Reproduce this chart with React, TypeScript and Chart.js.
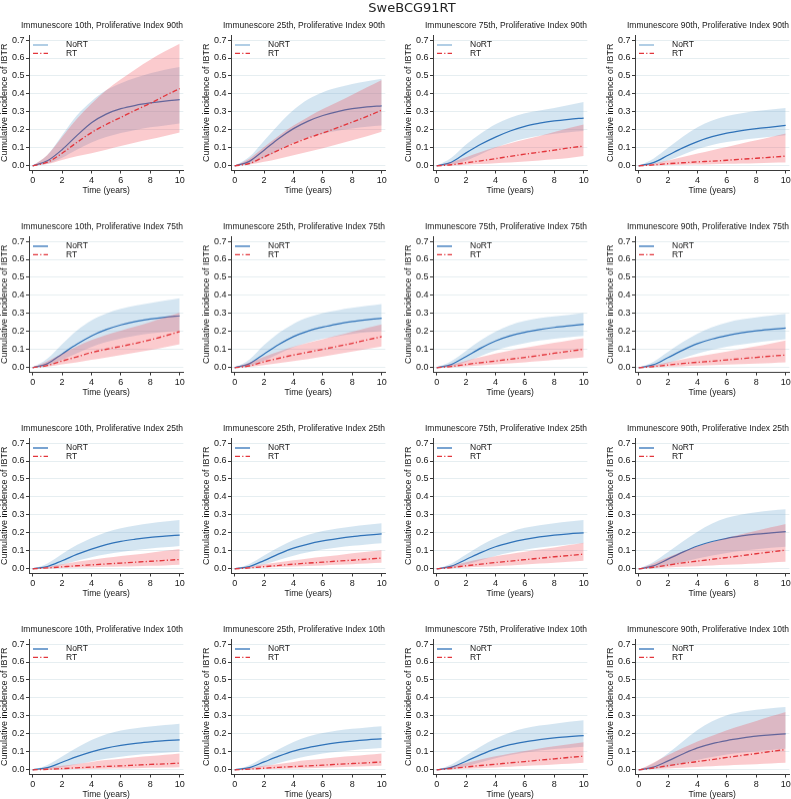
import React, { useEffect, useRef } from 'react';
import { Chart, registerables } from 'chart.js';

Chart.register(...registerables);

// ---------------- data ----------------
const figureTitle = 'SweBCG91RT';
const years = [0, 1, 2, 3, 4, 5, 6, 7, 8, 9, 10];
const xTickValues = [0, 2, 4, 6, 8, 10];
const yTickValues = [0, 0.1, 0.2, 0.3, 0.4, 0.5, 0.6, 0.7];
const immunescoreLevels = ['10th', '25th', '75th', '90th']; // columns
const proliferativeLevels = ['90th', '75th', '25th', '10th']; // rows
const groupLabels = ['NoRT', 'RT'];
const xAxisTitle = 'Time (years)';
const yAxisTitle = 'Cumulative incidence of IBTR';

// panels in row-major order (rows = proliferative index, columns = immunescore)
const noRTMean = [
  [0, 0.028, 0.09, 0.168, 0.24, 0.288, 0.318, 0.337, 0.35, 0.36, 0.368],
  [0, 0.025, 0.087, 0.152, 0.207, 0.249, 0.28, 0.302, 0.318, 0.328, 0.334],
  [0, 0.02, 0.072, 0.12, 0.16, 0.194, 0.22, 0.237, 0.25, 0.259, 0.266],
  [0, 0.018, 0.059, 0.1, 0.135, 0.162, 0.182, 0.196, 0.207, 0.216, 0.225],
  [0, 0.022, 0.076, 0.13, 0.176, 0.211, 0.237, 0.256, 0.27, 0.28, 0.287],
  [0, 0.022, 0.076, 0.128, 0.172, 0.203, 0.225, 0.242, 0.256, 0.266, 0.274],
  [0, 0.018, 0.062, 0.108, 0.148, 0.176, 0.196, 0.211, 0.223, 0.232, 0.24],
  [0, 0.016, 0.056, 0.097, 0.133, 0.159, 0.178, 0.193, 0.204, 0.212, 0.219],
  [0, 0.013, 0.045, 0.08, 0.11, 0.135, 0.153, 0.165, 0.175, 0.182, 0.188],
  [0, 0.013, 0.046, 0.083, 0.115, 0.138, 0.155, 0.168, 0.179, 0.187, 0.194],
  [0, 0.015, 0.052, 0.09, 0.123, 0.146, 0.164, 0.178, 0.188, 0.195, 0.2],
  [0, 0.016, 0.054, 0.093, 0.127, 0.152, 0.17, 0.183, 0.193, 0.2, 0.207],
  [0, 0.012, 0.042, 0.073, 0.1, 0.121, 0.136, 0.147, 0.155, 0.162, 0.167],
  [0, 0.012, 0.044, 0.076, 0.104, 0.124, 0.139, 0.151, 0.16, 0.167, 0.172],
  [0, 0.014, 0.048, 0.085, 0.117, 0.14, 0.156, 0.168, 0.178, 0.185, 0.191],
  [0, 0.015, 0.05, 0.088, 0.122, 0.146, 0.163, 0.176, 0.187, 0.194, 0.2],
];
const noRTLower = [
  [0, 0.012, 0.045, 0.09, 0.13, 0.16, 0.183, 0.2, 0.214, 0.225, 0.235],
  [0, 0.01, 0.043, 0.087, 0.128, 0.158, 0.179, 0.195, 0.208, 0.218, 0.225],
  [0, 0.008, 0.03, 0.065, 0.1, 0.13, 0.152, 0.167, 0.178, 0.187, 0.194],
  [0, 0.007, 0.03, 0.062, 0.093, 0.116, 0.132, 0.144, 0.154, 0.162, 0.17],
  [0, 0.01, 0.043, 0.08, 0.115, 0.142, 0.162, 0.177, 0.189, 0.198, 0.205],
  [0, 0.01, 0.04, 0.077, 0.113, 0.14, 0.16, 0.175, 0.187, 0.196, 0.204],
  [0, 0.008, 0.033, 0.065, 0.095, 0.118, 0.136, 0.15, 0.161, 0.169, 0.176],
  [0, 0.006, 0.025, 0.052, 0.078, 0.099, 0.116, 0.129, 0.14, 0.149, 0.157],
  [0, 0.006, 0.023, 0.045, 0.065, 0.081, 0.094, 0.105, 0.113, 0.12, 0.127],
  [0, 0.006, 0.024, 0.049, 0.073, 0.092, 0.107, 0.119, 0.128, 0.136, 0.142],
  [0, 0.006, 0.024, 0.048, 0.072, 0.091, 0.106, 0.118, 0.127, 0.135, 0.142],
  [0, 0.005, 0.019, 0.038, 0.057, 0.074, 0.088, 0.1, 0.109, 0.117, 0.123],
  [0, 0.004, 0.015, 0.031, 0.047, 0.061, 0.073, 0.082, 0.089, 0.095, 0.1],
  [0, 0.005, 0.018, 0.038, 0.059, 0.077, 0.091, 0.101, 0.109, 0.116, 0.122],
  [0, 0.005, 0.02, 0.042, 0.065, 0.083, 0.097, 0.108, 0.116, 0.122, 0.128],
  [0, 0.005, 0.017, 0.035, 0.055, 0.071, 0.085, 0.095, 0.104, 0.111, 0.117],
];
const noRTUpper = [
  [0, 0.06, 0.17, 0.28, 0.36, 0.42, 0.46, 0.49, 0.515, 0.535, 0.55],
  [0, 0.05, 0.14, 0.23, 0.31, 0.37, 0.41, 0.436, 0.456, 0.471, 0.484],
  [0, 0.045, 0.118, 0.18, 0.232, 0.268, 0.292, 0.308, 0.322, 0.338, 0.355],
  [0, 0.04, 0.1, 0.162, 0.215, 0.252, 0.277, 0.293, 0.305, 0.314, 0.322],
  [0, 0.05, 0.13, 0.205, 0.262, 0.3, 0.326, 0.344, 0.358, 0.372, 0.385],
  [0, 0.045, 0.125, 0.192, 0.243, 0.278, 0.302, 0.318, 0.331, 0.342, 0.352],
  [0, 0.036, 0.094, 0.152, 0.2, 0.236, 0.259, 0.274, 0.284, 0.293, 0.302],
  [0, 0.033, 0.088, 0.142, 0.188, 0.224, 0.25, 0.267, 0.279, 0.289, 0.298],
  [0, 0.03, 0.082, 0.132, 0.172, 0.204, 0.226, 0.241, 0.253, 0.263, 0.272],
  [0, 0.027, 0.074, 0.12, 0.16, 0.19, 0.211, 0.225, 0.236, 0.245, 0.253],
  [0, 0.03, 0.08, 0.13, 0.172, 0.205, 0.228, 0.243, 0.254, 0.264, 0.272],
  [0, 0.038, 0.094, 0.152, 0.207, 0.252, 0.284, 0.303, 0.315, 0.324, 0.331],
  [0, 0.027, 0.074, 0.123, 0.166, 0.198, 0.219, 0.232, 0.241, 0.249, 0.257],
  [0, 0.025, 0.07, 0.114, 0.155, 0.185, 0.205, 0.219, 0.228, 0.236, 0.243],
  [0, 0.03, 0.08, 0.13, 0.175, 0.208, 0.231, 0.246, 0.257, 0.267, 0.276],
  [0, 0.035, 0.092, 0.158, 0.222, 0.27, 0.304, 0.323, 0.335, 0.343, 0.35],
];
const rtMean = [
  [0, 0.02, 0.07, 0.13, 0.185, 0.23, 0.27, 0.31, 0.348, 0.39, 0.43],
  [0, 0.013, 0.05, 0.087, 0.124, 0.155, 0.183, 0.212, 0.244, 0.275, 0.31],
  [0, 0.006, 0.017, 0.028, 0.04, 0.053, 0.065, 0.076, 0.087, 0.1, 0.11],
  [0, 0.005, 0.012, 0.017, 0.022, 0.026, 0.031, 0.037, 0.042, 0.048, 0.054],
  [0, 0.012, 0.037, 0.06, 0.084, 0.102, 0.118, 0.135, 0.154, 0.176, 0.2],
  [0, 0.01, 0.033, 0.052, 0.07, 0.086, 0.102, 0.118, 0.135, 0.154, 0.172],
  [0, 0.007, 0.018, 0.028, 0.037, 0.047, 0.057, 0.068, 0.08, 0.091, 0.102],
  [0, 0.006, 0.015, 0.023, 0.03, 0.036, 0.043, 0.05, 0.057, 0.064, 0.07],
  [0, 0.005, 0.011, 0.017, 0.022, 0.027, 0.032, 0.037, 0.042, 0.047, 0.052],
  [0, 0.005, 0.012, 0.019, 0.026, 0.032, 0.037, 0.043, 0.048, 0.054, 0.06],
  [0, 0.007, 0.017, 0.026, 0.035, 0.043, 0.051, 0.059, 0.067, 0.074, 0.082],
  [0, 0.009, 0.021, 0.033, 0.043, 0.053, 0.063, 0.073, 0.084, 0.094, 0.104],
  [0, 0.003, 0.007, 0.011, 0.015, 0.019, 0.022, 0.026, 0.03, 0.033, 0.037],
  [0, 0.004, 0.009, 0.014, 0.018, 0.022, 0.026, 0.031, 0.035, 0.039, 0.044],
  [0, 0.007, 0.016, 0.024, 0.031, 0.039, 0.046, 0.054, 0.061, 0.069, 0.076],
  [0, 0.01, 0.023, 0.035, 0.046, 0.057, 0.069, 0.08, 0.091, 0.102, 0.113],
];
const rtLower = [
  [0, 0.01, 0.033, 0.053, 0.07, 0.09, 0.11, 0.13, 0.148, 0.166, 0.185],
  [0, 0.007, 0.022, 0.04, 0.059, 0.078, 0.098, 0.12, 0.142, 0.165, 0.19],
  [0, 0.002, 0.006, 0.01, 0.015, 0.019, 0.024, 0.03, 0.036, 0.044, 0.054],
  [0, 0.002, 0.004, 0.006, 0.007, 0.009, 0.011, 0.013, 0.015, 0.017, 0.018],
  [0, 0.006, 0.018, 0.03, 0.043, 0.056, 0.07, 0.084, 0.098, 0.113, 0.13],
  [0, 0.005, 0.015, 0.026, 0.037, 0.048, 0.061, 0.075, 0.089, 0.103, 0.117],
  [0, 0.003, 0.007, 0.013, 0.019, 0.024, 0.03, 0.036, 0.043, 0.05, 0.057],
  [0, 0.003, 0.006, 0.008, 0.011, 0.014, 0.017, 0.02, 0.023, 0.026, 0.03],
  [0, 0.002, 0.005, 0.007, 0.009, 0.011, 0.013, 0.015, 0.017, 0.019, 0.022],
  [0, 0.003, 0.007, 0.01, 0.013, 0.016, 0.019, 0.022, 0.026, 0.03, 0.034],
  [0, 0.003, 0.007, 0.011, 0.015, 0.019, 0.024, 0.029, 0.034, 0.039, 0.045],
  [0, 0.003, 0.007, 0.011, 0.015, 0.019, 0.022, 0.026, 0.03, 0.035, 0.039],
  [0, 0.001, 0.002, 0.004, 0.005, 0.006, 0.007, 0.009, 0.011, 0.013, 0.015],
  [0, 0.002, 0.004, 0.005, 0.007, 0.009, 0.011, 0.014, 0.017, 0.02, 0.022],
  [0, 0.003, 0.006, 0.009, 0.013, 0.017, 0.021, 0.025, 0.03, 0.034, 0.039],
  [0, 0.004, 0.008, 0.012, 0.016, 0.02, 0.024, 0.028, 0.031, 0.035, 0.039],
];
const rtUpper = [
  [0, 0.06, 0.16, 0.26, 0.345, 0.42, 0.482, 0.538, 0.59, 0.637, 0.68],
  [0, 0.04, 0.105, 0.168, 0.224, 0.272, 0.316, 0.355, 0.395, 0.437, 0.478],
  [0, 0.02, 0.048, 0.077, 0.104, 0.126, 0.146, 0.166, 0.188, 0.21, 0.23],
  [0, 0.013, 0.03, 0.049, 0.068, 0.087, 0.105, 0.124, 0.142, 0.161, 0.18],
  [0, 0.035, 0.077, 0.117, 0.153, 0.181, 0.205, 0.228, 0.252, 0.278, 0.305],
  [0, 0.028, 0.06, 0.089, 0.116, 0.138, 0.158, 0.178, 0.199, 0.22, 0.24],
  [0, 0.017, 0.038, 0.059, 0.078, 0.095, 0.11, 0.124, 0.138, 0.151, 0.163],
  [0, 0.014, 0.03, 0.046, 0.061, 0.075, 0.089, 0.103, 0.118, 0.134, 0.15],
  [0, 0.012, 0.025, 0.039, 0.051, 0.061, 0.071, 0.08, 0.09, 0.1, 0.11],
  [0, 0.012, 0.025, 0.037, 0.048, 0.058, 0.067, 0.076, 0.086, 0.095, 0.104],
  [0, 0.017, 0.036, 0.054, 0.07, 0.083, 0.095, 0.107, 0.119, 0.132, 0.145],
  [0, 0.03, 0.064, 0.096, 0.125, 0.149, 0.171, 0.192, 0.212, 0.231, 0.25],
  [0, 0.01, 0.022, 0.033, 0.044, 0.054, 0.062, 0.07, 0.077, 0.084, 0.091],
  [0, 0.01, 0.022, 0.033, 0.044, 0.054, 0.062, 0.07, 0.077, 0.084, 0.091],
  [0, 0.018, 0.038, 0.057, 0.075, 0.091, 0.105, 0.119, 0.131, 0.143, 0.154],
  [0, 0.04, 0.083, 0.122, 0.158, 0.19, 0.22, 0.246, 0.272, 0.298, 0.322],
];

// ---------------- style / layout ----------------
const FONT = '"Liberation Sans", Arial, Helvetica, sans-serif';
const TEXT = '#161616';
const AXIS = '#3a3a3a';
const GRID = '#e6eef1';
const BLUE = '#2f72b8';
const BLUE_KEY_LIGHT = '#a9c9e2';
const BLUE_BAND = 'rgba(100,160,205,0.28)';
const RED = '#e3363c';
const RED_BAND = 'rgba(240,70,80,0.28)';
const RT_DASH = [5, 2.2, 1.2, 2.2];

const CANVAS_W = 190;
const CANVAS_H = 196.2;
const PAD_TOP = 35;
const Y_AXIS_W = 29;
const X_AXIS_H = 25.5;
const COL_STEP = 202;
const ROW_STEP = 201.4;

function Panel({ index }: { index: number }) {
  const ref = useRef<HTMLCanvasElement | null>(null);
  const row = Math.floor(index / 4);
  const col = index % 4;

  useEffect(() => {
    const canvas = ref.current;
    if (!canvas) return;
    const pts = (arr: number[]) => years.map((t, i) => ({ x: t, y: arr[i] }));
    const title = `Immunescore ${immunescoreLevels[col]}, Proliferative Index ${proliferativeLevels[row]}`;

    const titlePlugin = {
      id: 'panelTitle',
      afterDraw(chart: any) {
        const { ctx, chartArea } = chart;
        ctx.save();
        ctx.font = `8.5px ${FONT}`;
        ctx.fillStyle = TEXT;
        ctx.textAlign = 'center';
        ctx.textBaseline = 'middle';
        ctx.fillText(title, chartArea.left + 73, chartArea.top - 9);
        ctx.restore();
      },
    };

    const legendPlugin = {
      id: 'insetLegend',
      afterDraw(chart: any) {
        const { ctx, chartArea } = chart;
        const items = [
          { label: groupLabels[0], color: row === 0 ? BLUE_KEY_LIGHT : BLUE, dash: [] as number[], width: row === 0 ? 1.8 : 1.3, dy: 10 },
          { label: groupLabels[1], color: RED, dash: RT_DASH, width: 1.3, dy: 18.3 },
        ];
        ctx.save();
        ctx.font = `8.5px ${FONT}`;
        ctx.textBaseline = 'middle';
        ctx.textAlign = 'left';
        for (const it of items) {
          const y = chartArea.top + it.dy;
          ctx.beginPath();
          ctx.setLineDash(it.dash);
          ctx.strokeStyle = it.color;
          ctx.lineWidth = it.width;
          ctx.moveTo(chartArea.left + 4, y);
          ctx.lineTo(chartArea.left + 19, y);
          ctx.stroke();
          ctx.setLineDash([]);
          ctx.fillStyle = TEXT;
          ctx.fillText(it.label, chartArea.left + 37, y);
        }
        ctx.restore();
      },
    };

    const band = (arr: number[], color: string, fill: any, order: number) => ({
      data: pts(arr),
      borderColor: 'rgba(0,0,0,0)',
      borderWidth: 0,
      backgroundColor: color,
      fill,
      pointRadius: 0,
      pointHoverRadius: 0,
      cubicInterpolationMode: 'monotone' as const,
      order,
    });

    const chart = new Chart(canvas, {
      type: 'line',
      data: {
        datasets: [
          { label: 'NoRT upper', ...band(noRTUpper[index], BLUE_BAND, '+1', 6) },
          { label: 'NoRT lower', ...band(noRTLower[index], 'rgba(0,0,0,0)', false, 5) },
          {
            label: groupLabels[0],
            data: pts(noRTMean[index]),
            borderColor: BLUE,
            borderWidth: 1.25,
            fill: false,
            pointRadius: 0,
            cubicInterpolationMode: 'monotone',
            order: 4,
          },
          { label: 'RT upper', ...band(rtUpper[index], RED_BAND, '+1', 3) },
          { label: 'RT lower', ...band(rtLower[index], 'rgba(0,0,0,0)', false, 2) },
          {
            label: groupLabels[1],
            data: pts(rtMean[index]),
            borderColor: RED,
            borderWidth: 1.35,
            borderDash: RT_DASH,
            fill: false,
            pointRadius: 0,
            cubicInterpolationMode: 'monotone',
            order: 1,
          },
        ] as any,
      },
      options: {
        responsive: false,
        animation: false,
        events: [],
        layout: { padding: { top: PAD_TOP, left: 0, right: CANVAS_W - Y_AXIS_W - 154.35, bottom: 0 } },
        plugins: {
          legend: { display: false },
          title: { display: false },
          tooltip: { enabled: false },
        },
        scales: {
          x: {
            type: 'linear',
            min: -0.25,
            max: 10.25,
            afterBuildTicks: (s: any) => {
              s.ticks = xTickValues.map((v) => ({ value: v }));
            },
            afterFit: (s: any) => {
              s.height = X_AXIS_H;
            },
            ticks: {
              autoSkip: false,
              maxRotation: 0,
              minRotation: 0,
              padding: 1.5,
              color: TEXT,
              font: { family: FONT, size: 9 },
              callback: (v: any) => String(v),
            },
            grid: { display: true, drawOnChartArea: false, drawTicks: true, tickLength: 3, tickColor: AXIS, tickWidth: 1 },
            border: { display: true, color: AXIS, width: 1 },
            title: {
              display: true,
              text: xAxisTitle,
              color: TEXT,
              font: { family: FONT, size: 8.5, lineHeight: 1 },
              padding: { top: 0, bottom: 1.5 },
            },
          },
          y: {
            type: 'linear',
            min: -0.026,
            max: 0.728,
            afterBuildTicks: (s: any) => {
              s.ticks = yTickValues.map((v) => ({ value: v }));
            },
            afterFit: (s: any) => {
              s.width = Y_AXIS_W;
            },
            ticks: {
              autoSkip: false,
              padding: 1.5,
              color: TEXT,
              font: { family: FONT, size: 9 },
              callback: (v: any) => Number(v).toFixed(1),
            },
            grid: { display: true, color: GRID, lineWidth: 1, drawTicks: true, tickLength: 3, tickColor: AXIS, tickWidth: 1 },
            border: { display: true, color: AXIS, width: 1 },
            title: {
              display: true,
              text: yAxisTitle,
              color: TEXT,
              font: { family: FONT, size: 9, lineHeight: 1 },
              padding: { top: 0, bottom: 0 },
            },
          },
        },
      } as any,
      plugins: [titlePlugin, legendPlugin],
    });
    return () => chart.destroy();
  }, [index, row, col]);

  return (
    <canvas
      ref={ref}
      width={CANVAS_W}
      height={CANVAS_H}
      style={{
        position: 'absolute',
        left: col * COL_STEP,
        top: row * ROW_STEP,
        width: CANVAS_W,
        height: CANVAS_H,
      }}
    />
  );
}

export default function App() {
  const panels = Array.from({ length: 16 }, (_, i) => i);
  return (
    <div
      style={{
        position: 'absolute',
        left: 0,
        top: 0,
        width: 791,
        height: 799,
        overflow: 'hidden',
        background: '#ffffff',
      }}
    >
      {panels.map((i) => (
        <Panel key={i} index={i} />
      ))}
      <div
        style={{
          position: 'absolute',
          left: 0,
          top: 0,
          width: 824,
          textAlign: 'center',
          fontFamily: '"DejaVu Sans", Verdana, sans-serif',
          fontSize: 13,
          lineHeight: '15px',
          color: '#222',
        }}
      >
        {figureTitle}
      </div>
    </div>
  );
}
